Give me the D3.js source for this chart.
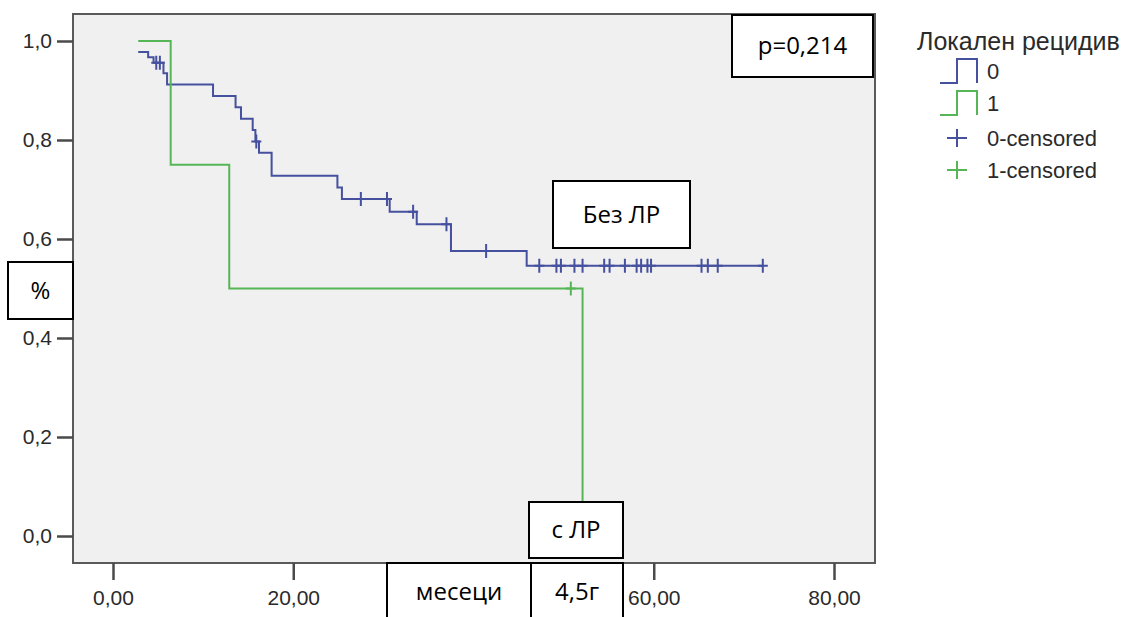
<!DOCTYPE html>
<html><head><meta charset="utf-8">
<script src="https://cdn.jsdelivr.net/npm/d3@7"></script>
<style>body{margin:0;background:#fff}svg{display:block}</style>
</head><body>
<svg id="c" width="1126" height="617"></svg>
<script>
// ---- data ----
const blueTimes  = [2.8, 3.9, 4.5, 5.6, 6.0, 11.1, 13.6, 14.2, 15.5, 15.8, 16.2, 17.6, 24.9, 25.4, 30.7, 33.7, 37.5, 45.9];
const blueSurv   = [0.978, 0.967, 0.956, 0.935, 0.912, 0.889, 0.866, 0.843, 0.820, 0.797, 0.774, 0.728, 0.704, 0.681, 0.655, 0.630, 0.576, 0.546];
const blueEnd    = 72.1;
const blueCensor = [4.8, 5.2, 15.9, 27.5, 30.4, 33.3, 37.0, 41.4, 47.3, 49.2, 49.7, 51.2, 52.1, 54.5, 55.1, 56.8, 58.1, 58.6, 59.3, 59.7, 65.3, 66.0, 67.1, 72.1];
const greenTimes  = [2.8, 6.4, 12.9, 52.1];
const greenSurv   = [1.0, 0.75, 0.5, 0.0];
const greenCensor = [50.8];
const xTicks = [0, 20, 40, 60, 80];
const xTicksHidden = [40]; // label covered by the annotation boxes in the reference
const yTicks = [0, 0.2, 0.4, 0.6, 0.8, 1.0];
const legendTitle = "Локален рецидив";
const legendLabels = ["0", "1", "0-censored", "1-censored"];
const annotations = ["p=0,214", "Без ЛР", "%", "с ЛР", "месеци", "4,5г"];

// ---- drawing ----
const svg = d3.select("#c");
const blue = "#45509e", green = "#56b656";
const x = d3.scaleLinear().domain([0, 80]).range([113, 834]);
const y = d3.scaleLinear().domain([0, 1]).range([536, 41]);
const L = 73, T = 14, R = 875, B = 563;

svg.append("rect").attr("x", L).attr("y", T).attr("width", R - L).attr("height", B - T)
  .attr("fill", "#f0f0f0").attr("stroke", "#5a5a5a").attr("stroke-width", 2);

const fmtY = d => d.toFixed(1).replace(".", ",");
const fmtX = d => d.toFixed(2).replace(".", ",");

const ya = svg.append("g").attr("transform", `translate(${L},0)`)
  .call(d3.axisLeft(y).tickValues(yTicks).tickFormat(fmtY).tickSize(16).tickPadding(5));
const xa = svg.append("g").attr("transform", `translate(0,${B})`)
  .call(d3.axisBottom(x).tickValues(xTicks).tickFormat(fmtX).tickSize(17).tickPadding(10));
[ya, xa].forEach(g => {
  g.select(".domain").remove();
  g.selectAll(".tick line").attr("stroke", "#4a4a4a").attr("stroke-width", 2.5);
  g.selectAll(".tick text").attr("fill", "#2a2a2a")
    .style("font-family", "'Liberation Sans', Arial, sans-serif").style("font-size", "21px");
});
xa.selectAll(".tick text").filter(d => xTicksHidden.includes(d)).remove();

const line = d3.line().x(d => x(d[0])).y(d => y(d[1])).curve(d3.curveStepAfter);
function stepAt(times, surv, t) {
  let s = surv[0];
  for (let i = 0; i < times.length; i++) if (times[i] <= t) s = surv[i];
  return s;
}
const bluePts = blueTimes.map((t, i) => [t, blueSurv[i]]).concat([[blueEnd, blueSurv[blueSurv.length - 1]]]);
const greenPts = greenTimes.map((t, i) => [t, greenSurv[i]]);

function drawCensor(times, surv, list, color) {
  svg.append("g").selectAll("path").data(list).join("path")
    .attr("d", t => {
      const cx = x(t), cy = y(stepAt(times, surv, t));
      return `M${cx - 5},${cy}H${cx + 5}M${cx},${cy - 7}V${cy + 7}`;
    })
    .attr("stroke", color).attr("stroke-width", 2).attr("fill", "none");
}

svg.append("path").attr("d", line(bluePts)).attr("fill", "none").attr("stroke", blue).attr("stroke-width", 2);
drawCensor(blueTimes, blueSurv, blueCensor, blue);
svg.append("path").attr("d", line(greenPts)).attr("fill", "none").attr("stroke", green).attr("stroke-width", 2);
drawCensor(greenTimes, greenSurv, greenCensor, green);

// ---- legend ----
const lg = svg.append("g").style("font-family", "'Liberation Sans', Arial, sans-serif").attr("fill", "#2a2a2a");
lg.append("text").attr("x", 917).attr("y", 50).style("font-size", "25px").text(legendTitle);
const legColors = [blue, green, blue, green];
const legCY = [71, 103, 138, 170];
legendLabels.forEach((lab, i) => {
  const cy = legCY[i];
  if (i < 2) {
    lg.append("path").attr("d", `M940,${cy + 12}H957V${cy - 12}H977V${cy + 12}`)
      .attr("fill", "none").attr("stroke", legColors[i]).attr("stroke-width", 2);
  } else {
    lg.append("path").attr("d", `M947,${cy}H967M957,${cy - 9}V${cy + 9}`)
      .attr("fill", "none").attr("stroke", legColors[i]).attr("stroke-width", 2);
  }
  lg.append("text").attr("x", 987).attr("y", cy + 8).style("font-size", "22px").text(lab);
});

// ---- annotation boxes ----
const boxes = [
  {x: 732, y: 15, w: 141, h: 62},
  {x: 553, y: 181, w: 137, h: 67},
  {x: 8, y: 262, w: 65, h: 57},
  {x: 529, y: 502, w: 94, h: 56},
  {x: 387, y: 563, w: 144, h: 60},
  {x: 531, y: 563, w: 92, h: 60}
];
const bg = svg.append("g");
annotations.forEach((t, i) => {
  const b = boxes[i];
  bg.append("rect").attr("x", b.x).attr("y", b.y).attr("width", b.w).attr("height", b.h)
    .attr("fill", "#fff").attr("stroke", "#000").attr("stroke-width", 2);
  bg.append("text").attr("x", b.x + b.w / 2).attr("y", (i >= 4 ? 592 : b.y + b.h / 2))
    .attr("dy", "0.35em").attr("text-anchor", "middle")
    .style("font-family", "'Open Sans', sans-serif").style("font-size", "24px").attr("fill", "#000")
    .text(t);
});
</script>
</body></html>
